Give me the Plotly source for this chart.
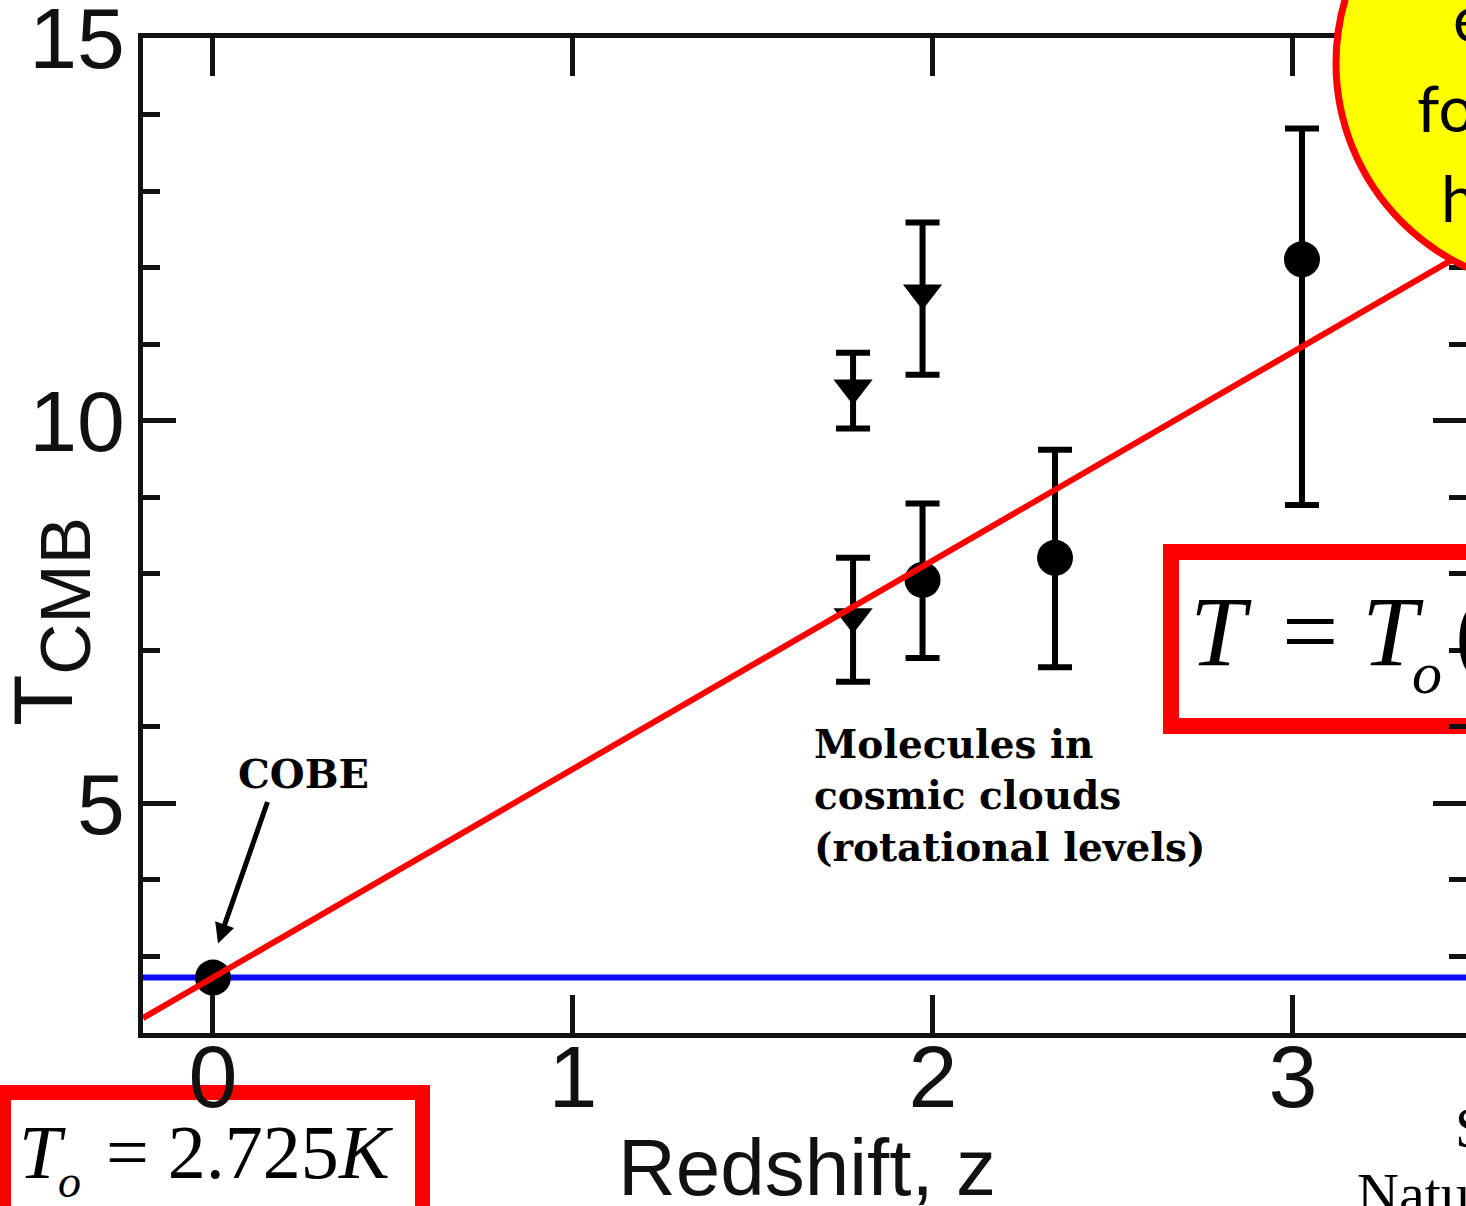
import plotly.graph_objects as go

# --- data -----------------------------------------------------------------
T0 = 2.725  # present-day CMB temperature (K)

# filled circles: COBE at z=0 plus molecular-cloud measurements
circ_z = [0.0, 1.971, 2.339, 3.025]
circ_T = [2.725, 7.92, 8.21, 12.11]
circ_err_up = [0.0, 1.00, 1.41, 1.71]
circ_err_dn = [0.0, 1.02, 1.43, 3.21]

# downward triangles
tri_z = [1.778, 1.778, 1.971]
tri_T = [10.43, 7.44, 11.67]
tri_err_up = [0.46, 0.77, 0.92]
tri_err_dn = [0.53, 0.85, 1.07]

# axis settings
z_range = [-0.1944, 3.4806]
T_range = [2, 15.002]
x_ticks = [0, 1, 2, 3]
y_ticks = [5, 10, 15]

# --- figure geometry (pixels) ---------------------------------------------
W, H = 1466, 1206
ML, MR, MT, MB = 143, 0, 38, 173
PW, PH = W - ML - MR, H - MT - MB


def px(x):
    return (x - ML) / PW


def py(y):
    return (H - MB - y) / PH


AX = "#111111"
SANS = "Liberation Sans, Arial, sans-serif"
SERIF = "Liberation Serif, Times New Roman, serif"
SLAB = "DejaVu Serif, serif"
BUBBLE = "Lato, sans-serif"

fig = go.Figure()

# present-day temperature (constant) line
fig.add_trace(go.Scatter(
    x=z_range, y=[T0, T0], mode="lines",
    line=dict(color="#0a0aff", width=6), hoverinfo="skip"))

# measurements
fig.add_trace(go.Scatter(
    x=circ_z, y=circ_T, mode="markers",
    marker=dict(symbol="circle", size=36, color="black"),
    error_y=dict(type="data", array=circ_err_up, arrayminus=circ_err_dn,
                 thickness=6, width=17, color="black")))
fig.add_trace(go.Scatter(
    x=tri_z, y=tri_T, mode="markers",
    marker=dict(symbol="triangle-down", size=34, color="black"),
    error_y=dict(type="data", array=tri_err_up, arrayminus=tri_err_dn,
                 thickness=6, width=17, color="black")))

# T = T0 (1 + z)
fit_z = z_range
fit_T = [T0 * (1 + z) for z in fit_z]
fig.add_trace(go.Scatter(
    x=fit_z, y=fit_T, mode="lines",
    line=dict(color="#ff0000", width=6), hoverinfo="skip"))

shapes = [
    # equation box inside the plot
    dict(type="rect", xref="paper", yref="paper", layer="below",
         x0=px(1171), x1=px(1520), y0=py(552), y1=py(726),
         line=dict(color="#ff0000", width=16), fillcolor="white"),
    # T0 box below the axis
    dict(type="rect", xref="paper", yref="paper", layer="below",
         x0=px(3.5), x1=px(422.5), y0=py(1092.5), y1=py(1260),
         line=dict(color="#ff0000", width=15), fillcolor="white"),
    # callout bubble
    dict(type="circle", xref="paper", yref="paper", layer="above",
         x0=px(1561 - 225), x1=px(1561 + 225), y0=py(63 + 225), y1=py(63 - 225),
         line=dict(color="#ff0000", width=7), fillcolor="#ffff00"),
]


def label(text, x, y, size, family, xanchor="left", color="black", **kw):
    return dict(text=text, x=px(x), y=py(y), xref="paper", yref="paper",
                xanchor=xanchor, yanchor="middle", showarrow=False,
                font=dict(size=size, family=family, color=color), **kw)


annotations = [
    # axis titles
    label("Redshift, z", 807, 1167, 80, SANS, xanchor="center", color=AX),
    label("T<sub><span style='font-size:71px'>CMB</span></sub>", 50, 622, 84,
          SANS, xanchor="center", color=AX, textangle=-90),
    # COBE label and arrow
    label("<b>COBE</b>", 236, 773, 40, SLAB),
    dict(x=0.014, y=3.17, xref="x", yref="y", ax=50, ay=-143, text="",
         showarrow=True, arrowhead=2, arrowsize=0.8, arrowwidth=5,
         arrowcolor="black"),
    # molecular clouds note
    label("<b>Molecules in</b>", 812, 744, 39, SLAB),
    label("<b>cosmic clouds</b>", 812, 795, 39, SLAB),
    label("<b>(rotational levels)</b>", 812, 847, 39, SLAB),
    # bubble text
    label("expected", 1451, 18, 64, BUBBLE),
    label("for the", 1415, 108, 64, BUBBLE),
    label("hot Big Bang", 1439, 197, 64, BUBBLE),
    # scaling law
    label("<i>T</i>", 1188, 631, 100, SERIF),
    label("=", 1280, 631, 100, SERIF),
    label("<i>T</i>", 1360, 631, 100, SERIF),
    label("<i>o</i>", 1410, 673, 60, SERIF),
    label("(1 + <i>z</i>)", 1453, 631, 100, SERIF),
    # present-day value
    label("<i>T</i>", 17, 1152, 76, SERIF),
    label("<i>o</i>", 56, 1181, 46, SERIF),
    label("= 2.725<i>K</i>", 104, 1152, 76, SERIF),
    # reference
    label("Srianand et al.", 1453, 1127, 58, SERIF),
    label("Nature 408, 931 (2000)", 1355, 1193, 58, SERIF),
]

fig.update_layout(
    width=W, height=H,
    margin=dict(l=ML, r=MR, t=MT, b=MB, pad=0),
    template="none",
    paper_bgcolor="white", plot_bgcolor="white",
    showlegend=False,
    shapes=shapes,
    annotations=annotations,
    xaxis=dict(
        range=z_range, tickmode="array", tickvals=x_ticks,
        ticktext=[str(v) for v in x_ticks],
        ticks="inside", ticklen=38, tickwidth=5, tickcolor=AX,
        showline=True, linewidth=5, linecolor=AX, mirror="ticks",
        showgrid=False, zeroline=False, ticklabelstandoff=-37,
        ticklabeloverflow="allow",
        tickfont=dict(size=88, family=SANS, color=AX),
    ),
    yaxis=dict(
        range=T_range, tickmode="array", tickvals=y_ticks,
        ticktext=[str(v) for v in y_ticks],
        ticks="inside", ticklen=33, tickwidth=5, tickcolor=AX,
        showline=True, linewidth=5, linecolor=AX, mirror="ticks",
        showgrid=False, zeroline=False, ticklabelstandoff=-4,
        ticklabeloverflow="allow",
        minor=dict(tickmode="linear", tick0=0, dtick=1, ticks="inside",
                   ticklen=17, tickwidth=5, tickcolor=AX, showgrid=False),
        tickfont=dict(size=86, family=SANS, color=AX),
    ),
)

fig.write_html("out.html")
